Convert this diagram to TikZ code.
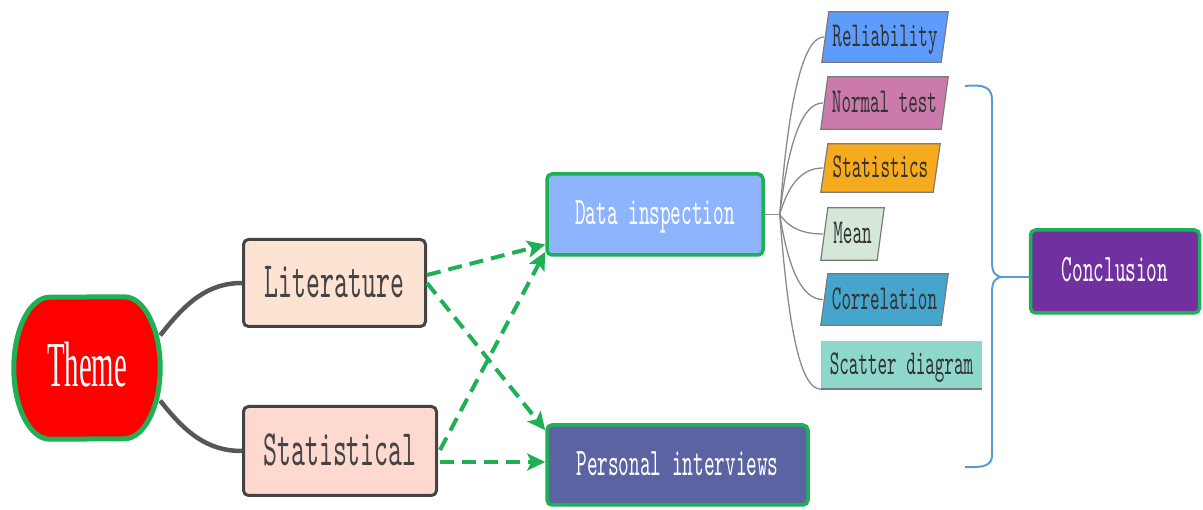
\documentclass[tikz,border=0pt]{standalone}
\usepackage{fontspec}
\usetikzlibrary{arrows.meta,calc,backgrounds}
\newfontfamily\monof{lmmono10-regular}[Extension=.otf, FakeStretch=0.52]
\newfontfamily\thserif{Liberation Serif}[FakeStretch=0.45]
\definecolor{gborder}{HTML}{1DB054}
\definecolor{dgray}{HTML}{444444}
\definecolor{litfill}{HTML}{FDE4D2}
\definecolor{statfill}{HTML}{FDD9CF}
\definecolor{datafill}{HTML}{8EB4FD}
\definecolor{persfill}{HTML}{5B63A2}
\definecolor{concfill}{HTML}{7030A0}
\definecolor{relfill}{HTML}{5D9CFD}
\definecolor{normfill}{HTML}{CB7AAB}
\definecolor{statsfill}{HTML}{F6AB1C}
\definecolor{meanfill}{HTML}{D5E7D7}
\definecolor{corrfill}{HTML}{45A5CD}
\definecolor{scatfill}{HTML}{8ED8CB}
\definecolor{leafline}{HTML}{7A7A7A}
\definecolor{treeline}{HTML}{8A8A8A}
\definecolor{bracecol}{HTML}{5B9BD5}
\definecolor{leaftext}{HTML}{333333}
\begin{document}
\begin{tikzpicture}[x=1pt,y=-1pt,
  mainbox/.style={draw=gborder, line width=3.5pt, rounded corners=5pt, inner sep=0pt,
    text=white, font=\monof\fontsize{39}{44}\selectfont, text height=24pt, text depth=3pt},
  srcbox/.style={draw=dgray, line width=3pt, rounded corners=5pt, inner sep=0pt,
    text=dgray, font=\monof\fontsize{51}{56}\selectfont, text height=31pt, text depth=1pt},
  leaftxt/.style={inner sep=0pt, text=leaftext, font=\monof\fontsize{35}{40}\selectfont,
    text height=21pt, text depth=1pt},
  leafshape/.style={draw=leafline, line width=1.2pt},
  tree/.style={draw=treeline, line width=1.3pt},
  trunk/.style={draw=dgray!90, line width=4.5pt},
  flow/.style={draw=gborder, line width=4pt, dash pattern=on 14pt off 8pt,
    -{Stealth[length=18pt,width=17pt,inset=4pt]}},
  bracket/.style={draw=bracecol, line width=2pt}
]
\useasboundingbox (0,0) rectangle (1203,510);

% theme node (shape drawn on background)
\node[inner sep=0pt, minimum width=146pt, minimum height=142pt, text=white,
  font=\thserif\fontsize{64}{70}\selectfont, text height=42pt, text depth=5pt]
  (theme) at (87,368) {Theme};
\begin{scope}[on background layer]
  \path[draw=gborder, fill=red, line width=5pt]
    ($(theme.north east)+(-36,0)$) arc[start angle=-90, end angle=90, x radius=36, y radius=71]
    -- ($(theme.south west)+(36,0)$) arc[start angle=90, end angle=270, x radius=36, y radius=71]
    -- cycle;
\end{scope}

% main nodes
\node[srcbox, fill=litfill, minimum width=182pt, minimum height=87pt] (lit) at (334.5,283) {Literature};
\node[srcbox, fill=statfill, minimum width=193pt, minimum height=89pt] (stat) at (340,451) {Statistical};
\node[mainbox, fill=datafill, minimum width=216pt, minimum height=81pt] (data) at (655,214.5) {Data inspection};
\node[mainbox, fill=persfill, minimum width=261pt, minimum height=80pt] (pers) at (677.5,465) {Personal interviews};
\node[mainbox, fill=concfill, minimum width=169pt, minimum height=83pt] (concl) at (1115,271.5) {Conclusion};

% leaves (text nodes)
\node[leaftxt, minimum width=126pt, minimum height=50pt] (rel) at (885,37) {Reliability};
\node[leaftxt, minimum width=127pt, minimum height=52pt] (norm) at (884.5,103) {Normal test};
\node[leaftxt, minimum width=119pt, minimum height=48pt] (stats) at (880.5,168) {Statistics};
\node[leaftxt, minimum width=63pt, minimum height=52pt] (mean) at (852.5,234) {Mean};
\node[leaftxt, minimum width=127pt, minimum height=51pt] (corr) at (884.5,299.5) {Correlation};
\node[leaftxt, minimum width=161pt, minimum height=48pt] (scat) at (901.5,365) {Scatter diagram};

\begin{scope}[on background layer]
  \foreach \n/\c in {rel/relfill, norm/normfill, stats/statsfill, mean/meanfill, corr/corrfill}{
    \path[leafshape, fill=\c] (\n.south west) -- ($(\n.north west)+(7,0)$) -- (\n.north east)
      -- ($(\n.south east)+(-7,0)$) -- cycle;
  }
  \fill[scatfill] (scat.south west) rectangle (scat.north east);
  \draw[leafline, line width=1.5pt] (scat.south west) -- (scat.south east);
\end{scope}

% theme connectors
\draw[trunk] (theme.24) .. controls +(25,-32) and +(-35,0) .. (lit.west);
\draw[trunk] (theme.-24) .. controls +(25,32) and +(-35,0) .. (stat.west);

% dashed flows
\draw[flow] ($(lit.east)+(0,-8)$) -- ($(data.west)+(0,30)$);
\draw[flow] (lit.east) -- ($(pers.north west)+(0,7)$);
\draw[flow] ($(stat.east)+(2,-1)$) -- ($(data.south west)+(0,-5)$);
\draw[flow] ($(stat.east)+(2,11)$) -- ($(pers.west)+(0,-3)$);

% tree
\coordinate (fork) at ($(data.east)+(15,0)$);
\draw[tree] (data.east) -- (fork);
\draw[tree] (fork) .. controls +(8,-106) and +(-22,0) .. ($(rel.west)+(2,0)$);
\draw[tree] (fork) .. controls +(8,-67) and +(-22,0) .. ($(norm.west)+(2,0)$);
\draw[tree] (fork) .. controls +(8,-28) and +(-22,0) .. ($(stats.west)+(2,0)$);
\draw[tree] (fork) .. controls +(8,12) and +(-22,0) .. ($(mean.west)+(2,0)$);
\draw[tree] (fork) .. controls +(8,51) and +(-22,0) .. ($(corr.west)+(2,0)$);
\draw[tree] (fork) .. controls +(8,105) and +(-22,0) .. (scat.south west);

% bracket to conclusion
\coordinate (btip) at (1003,277);
\draw[bracket] (965,86) .. controls (985,84) and (992,88) .. (992,100) -- (992,262)
  .. controls (992,272) and (995,277) .. (btip)
  .. controls (995,277) and (992,282) .. (992,292) -- (992,455)
  .. controls (992,465) and (985,468) .. (965,467);
\draw[bracket] (btip) -- ($(concl.west)+(0,5.5)$);
\end{tikzpicture}
\end{document}
